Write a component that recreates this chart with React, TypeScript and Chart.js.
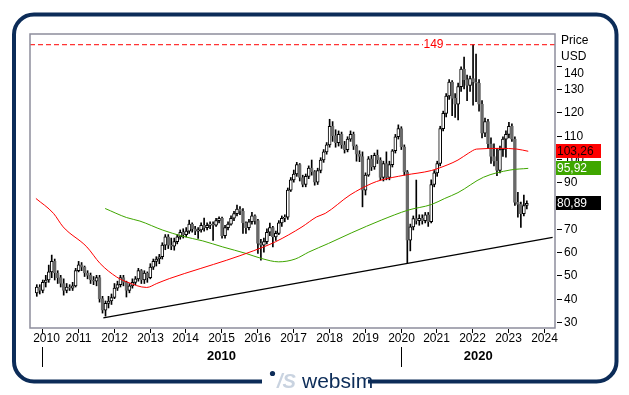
import React, { useEffect, useRef } from "react";
import Chart from "chart.js/auto";

// ---- data (monthly candles, Nov 2009 .. Jul 2023) ----
const START_YEAR = 2009;
const START_MONTH = 10; // November (0-based)

const opens = [
  42.5, 45, 43.5, 47, 48, 51.5, 56, 51, 49, 46.5, 43.5, 45, 44.5, 45.5, 52, 54.5, 53.5, 51, 50, 48,
  47.5, 49, 40, 35, 38, 39, 40.5, 44.5, 46, 49, 47, 43.5, 45.5, 47, 48.5, 52, 48, 51, 49, 53.5,
  56, 57, 58, 63, 66.5, 63, 62.5, 64.5, 66.5, 68.5, 67.5, 69, 72, 70, 69, 69.5, 71.5, 70.5, 71.5, 72,
  71.5, 73.5, 74.5, 67, 70.5, 72, 74.5, 76.5, 78.5, 77.5, 72.5, 70.5, 73, 75.5, 73.5, 63.7, 63, 64.5, 68.5, 70.5,
  66.5, 68, 72.5, 74.5, 75, 86.6, 91, 93.5, 97.5, 92, 89, 92.5, 96, 94.5, 90, 95, 99.5, 103, 106, 114,
  110, 107, 110.5, 106, 104, 108.5, 110.5, 105.5, 102, 101, 86.6, 93, 100, 96.5, 101.5, 99.5, 92, 98, 92, 97.5,
  103.5, 109.5, 113, 105.2, 94.4, 65.1, 70.8, 74.4, 73.5, 74.5, 73.5, 76, 73, 89, 94, 98, 113, 119.5, 127, 133,
  126, 123.5, 131, 138.5, 134, 131.5, 134.5, 133, 132.5, 123.5, 111, 116, 106.5, 101, 99, 95, 104, 108.5, 110.5, 114,
  108.5, 81.3, 80.5, 76.5, 80,
];
const highs = [
  46, 46, 48, 50, 54.4, 58.7, 57, 52, 50, 48.5, 46.5, 46, 47, 53, 56, 55.5, 54, 52, 51, 49.5,
  50, 50, 41, 39, 41, 42, 46.5, 47.5, 50, 50, 47.5, 46.5, 48.5, 49.5, 53, 52.5, 52, 51.5, 55, 57,
  58, 59, 64, 67.5, 67.5, 66, 66, 67.5, 69.5, 70, 70.5, 73.7, 72.5, 71, 70.5, 72.5, 74.6, 72.5, 73, 73,
  74.5, 75.1, 75, 71.5, 73, 75.5, 77.5, 80.2, 79.5, 78.7, 73, 74, 77, 76, 74, 65.5, 66, 70, 72.4, 71,
  69, 73.5, 75.5, 76, 87.5, 92, 95.2, 98.5, 98, 93, 93.5, 97, 99.5, 95, 96, 100.5, 104, 107, 117, 116,
  112.5, 112, 111.5, 107.5, 109.5, 112, 111.5, 106, 103.5, 103, 94, 101, 101.5, 102.5, 103.8, 100.5, 99, 103, 99, 104,
  110.5, 114.6, 113.8, 106, 95, 72, 75.5, 90.9, 76, 76, 77, 77, 91, 95, 99, 114, 120.5, 128, 134, 133.6,
  128, 132.5, 139.5, 143.7, 136, 135.5, 149, 145, 134, 125, 117.5, 117, 109, 106.5, 104.5, 105.5, 109.5, 112, 115.7, 115,
  109.5, 85.6, 81.5, 84.5, 82,
];
const lows = [
  41, 42, 42.5, 45, 47, 49, 48, 46.5, 45, 41.5, 42.5, 43.5, 43.5, 45, 51.5, 52, 49.5, 48.5, 46.5, 46,
  45.5, 38.5, 33.8, 32.5, 36, 37.5, 40, 43.5, 45, 45.5, 40.7, 42.5, 44.5, 46, 47.5, 46.5, 46.5, 47, 48.5, 52.5,
  54, 55, 57, 61, 61.5, 61, 60.8, 63.5, 65.5, 66, 66.5, 68, 68.5, 67.5, 65.8, 68.5, 69, 69.5, 70, 65,
  71, 72.5, 66, 66, 69.5, 71.5, 73.5, 75.5, 76, 68, 68, 69.5, 72, 72, 59.4, 56.5, 60, 63.5, 67, 62.2,
  65, 67.5, 71, 73, 74, 86, 90, 92.5, 90.5, 88, 88, 91.5, 93, 88.7, 89, 94, 98.5, 102, 105, 107.5,
  105, 105.5, 104.5, 102.5, 103, 107.5, 104, 99, 98.8, 79.4, 84.5, 92.5, 95, 95.5, 98, 91, 90.5, 91, 91, 96.5,
  102.5, 108.5, 104, 93, 55.4, 60.5, 69.5, 72, 71.5, 72, 72.5, 71, 72.5, 88, 92.5, 97, 112, 118, 125.5, 118.5,
  117.8, 116.7, 129, 130, 125, 129, 123, 124.5, 120.5, 109, 109.5, 104.5, 98, 97, 92.8, 94, 101, 100.7, 109, 107.5,
  80, 75, 70.6, 75.5, 78.5,
];
const closes = [
  45, 43.5, 47, 48, 51.5, 56, 51, 49, 46.5, 43.5, 45, 44.5, 45.5, 52, 54.5, 53.5, 51, 50, 48, 47.5,
  49, 40, 35, 38, 39, 40.5, 44.5, 46, 49, 47, 43.5, 45.5, 47, 48.5, 52, 48, 51, 49, 53.5, 56,
  57, 58, 63, 66.5, 63, 62.5, 64.5, 66.5, 68.5, 67.5, 69, 72, 70, 69, 69.5, 71.5, 70.5, 71.5, 72, 71.5,
  73.5, 74.5, 67, 70.5, 72, 74.5, 76.5, 78.5, 77.5, 72.5, 70.5, 73, 75.5, 73.5, 63.7, 63, 64.5, 68.5, 70.5, 66.5,
  68, 72.5, 74.5, 75, 86.6, 91, 93.5, 97.5, 92, 89, 92.5, 96, 94.5, 90, 95, 99.5, 103, 106, 114, 110,
  107, 110.5, 106, 104, 108.5, 110.5, 105.5, 102, 101, 86.6, 93, 100, 96.5, 101.5, 99.5, 92, 98, 92, 97.5, 103.5,
  109.5, 113, 105.2, 94.4, 65.1, 70.8, 74.4, 73.5, 74.5, 73.5, 76, 73, 89, 94, 98, 113, 119.5, 127, 133, 126,
  123.5, 131, 138.5, 134, 131.5, 134.5, 133, 132.5, 123.5, 111, 116, 106.5, 101, 99, 95, 104, 108.5, 110.5, 114, 108.5,
  81.3, 80.5, 76.5, 80, 80.89,
];

// moving averages (date as decimal year)
const redDates = [2009.83, 2010.32, 2010.59, 2011.25, 2011.62, 2012.08, 2012.36, 2012.92, 2013.2, 2013.55, 2014.41, 2015.15, 2015.89, 2016.51, 2017.25, 2017.66, 2017.9, 2018.59, 2019.2, 2019.46, 2020.11, 2020.86, 2021.32, 2021.6, 2021.9, 2022.12, 2022.77, 2023.24, 2023.56];
const redValues = [83, 76.6, 70.8, 62.2, 55.1, 49.3, 47.2, 44.8, 46.5, 48.6, 52.9, 56.5, 60.5, 64.4, 70.8, 75.1, 76.6, 84.5, 89.5, 90.9, 93, 95, 97.5, 99.5, 102.5, 104.2, 104.5, 104.2, 103.26];
const greenDates = [2011.76, 2012.36, 2012.73, 2013.37, 2013.92, 2014.48, 2015.04, 2015.69, 2016.13, 2016.6, 2017.06, 2017.44, 2017.99, 2018.64, 2019.46, 2020.21, 2020.86, 2021.23, 2021.6, 2022.31, 2023.05, 2023.56];
const greenValues = [78.7, 74.8, 73.3, 69.4, 66.8, 64.8, 62.2, 59.4, 57.2, 55.8, 57, 60, 63.7, 68.3, 73.7, 78, 80.4, 83, 85.5, 92.1, 95.2, 95.92];
const trendDates = [2011.71, 2024.24];
const trendValues = [31.7, 66.3];
const peakLevel = 149;

const yTicks = [30, 40, 50, 60, 70, 80, 90, 100, 110, 120, 130, 140];
const yearTicks = [2010, 2011, 2012, 2013, 2014, 2015, 2016, 2017, 2018, 2019, 2020, 2021, 2022, 2023, 2024];
const decades = [2010, 2020];

const X_MIN = 2009.665;
const X_MAX = 2024.306;
const Y_MIN = 27.4;
const Y_MAX = 153.6;

const GRAY = "#6b6b6b";
const RED = "#ff0000";
const GREEN = "#3fa600";
const NAVY = "#0c2c58";
const FONT = '"Liberation Sans", Arial, sans-serif';

function monthX(i: number) {
  return START_YEAR + (START_MONTH + i + 0.25) / 12;
}

export default function App() {
  const ref = useRef<HTMLCanvasElement>(null);

  useEffect(() => {
    const canvas = ref.current!;
    const isUp = (i: number) => closes[i] >= opens[i];
    const wicks = highs.map((h, i) => ({ x: monthX(i), y: [lows[i], h] }));
    const bodies = opens.map((o, i) => ({ x: monthX(i), y: [o, closes[i]] }));

    const overlay = {
      id: "overlay",
      beforeDraw(chart: any) {
        const ctx = chart.ctx;
        ctx.save();
        ctx.fillStyle = "#fff";
        ctx.fillRect(0, 0, 629, 395);
        // outer rounded frame
        ctx.strokeStyle = NAVY;
        ctx.lineWidth = 4;
        ctx.beginPath();
        ctx.roundRect(14, 14.5, 602.5, 367, 20);
        ctx.stroke();
        // logo gap
        ctx.fillStyle = "#fff";
        ctx.fillRect(262, 374, 106, 16);
        ctx.fillStyle = NAVY;
        ctx.beginPath();
        ctx.arc(272.5, 373.5, 2.6, 0, Math.PI * 2);
        ctx.fill();
        ctx.fillStyle = "#c9d3e0";
        ctx.font = `italic bold 20px ${FONT}`;
        ctx.textBaseline = "middle";
        ctx.textAlign = "left";
        ctx.fillText("/S", 277, 382);
        ctx.fillStyle = NAVY;
        ctx.font = `21px ${FONT}`;
        ctx.fillText("websim", 302, 382);
        ctx.restore();
      },
      afterDraw(chart: any) {
        const ctx = chart.ctx;
        const { left, right, top, bottom } = chart.chartArea;
        const xs = chart.scales.x;
        const ys = chart.scales.y;
        ctx.save();
        // plot frame
        ctx.strokeStyle = "#8d8d9c";
        ctx.lineWidth = 1.5;
        ctx.strokeRect(left, top, right - left, bottom - top);

        // y ticks
        ctx.strokeStyle = "#000";
        ctx.lineWidth = 1;
        ctx.fillStyle = "#000";
        ctx.font = `12px ${FONT}`;
        ctx.textAlign = "left";
        ctx.textBaseline = "middle";
        yTicks.forEach((v) => {
          const y = Math.round(ys.getPixelForValue(v)) + 0.5;
          ctx.beginPath();
          ctx.moveTo(right + 2, y);
          ctx.lineTo(right + 7, y);
          ctx.stroke();
          ctx.fillText(String(v), right + 9, y + (v === 140 ? 7 : 0));
        });
        ctx.fillText("Price", right + 6, 41);
        ctx.fillText("USD", right + 6, 57);

        // x ticks
        ctx.textAlign = "center";
        yearTicks.forEach((yr) => {
          const x = Math.round(xs.getPixelForValue(yr)) + 0.5;
          ctx.beginPath();
          ctx.moveTo(x, bottom + 1);
          ctx.lineTo(x, bottom + 5);
          ctx.stroke();
          ctx.fillText(String(yr), x + (yr === 2010 ? 4 : 0), bottom + 11);
        });
        // decade markers
        ctx.font = `bold 13px ${FONT}`;
        decades.forEach((d, i) => {
          const x = Math.round(xs.getPixelForValue(d)) + 0.5;
          ctx.beginPath();
          ctx.moveTo(x, bottom + 19);
          ctx.lineTo(x, bottom + 39);
          ctx.stroke();
          const xEnd = i + 1 < decades.length ? xs.getPixelForValue(decades[i + 1]) : right;
          ctx.fillText(String(d), (x + xEnd) / 2, bottom + 28);
        });

        // peak label
        const py = ys.getPixelForValue(peakLevel);
        ctx.font = `12px ${FONT}`;
        ctx.fillStyle = "#fff";
        ctx.fillRect(423, py - 6, 21, 12);
        ctx.fillStyle = RED;
        ctx.fillText(String(peakLevel), 433.5, py);

        // value boxes
        const boxes = [
          { v: redValues[redValues.length - 1], bg: RED, fg: "#1a0000" },
          { v: greenValues[greenValues.length - 1], bg: GREEN, fg: "#fff" },
          { v: closes[closes.length - 1], bg: "#000", fg: "#fff" },
        ];
        ctx.textAlign = "left";
        boxes.forEach((b) => {
          const y = ys.getPixelForValue(b.v);
          ctx.fillStyle = b.bg;
          ctx.fillRect(right + 1, Math.round(y - 7), 45, 14);
          ctx.fillStyle = b.fg;
          ctx.fillText(b.v.toFixed(2).replace(".", ","), right + 2, y + 0.5);
        });
        ctx.restore();
      },
    };

    const chart = new Chart(canvas, {
      type: "bar",
      data: {
        datasets: [
          {
            type: "line",
            data: [
              { x: X_MIN, y: peakLevel },
              { x: X_MAX, y: peakLevel },
            ],
            borderColor: RED,
            borderWidth: 1,
            borderDash: [5, 3],
            pointRadius: 0,
            order: 0,
          } as any,
          {
            type: "line",
            data: redDates.map((d, i) => ({ x: d, y: redValues[i] })),
            borderColor: RED,
            borderWidth: 1,
            pointRadius: 0,
            cubicInterpolationMode: "monotone",
            order: 0,
          },
          {
            type: "line",
            data: greenDates.map((d, i) => ({ x: d, y: greenValues[i] })),
            borderColor: GREEN,
            borderWidth: 1,
            pointRadius: 0,
            cubicInterpolationMode: "monotone",
            order: 0,
          },
          {
            type: "line",
            data: trendDates.map((d, i) => ({ x: d, y: trendValues[i] })),
            borderColor: "#000",
            borderWidth: 1.3,
            pointRadius: 0,
            order: 0,
          },
          {
            type: "bar",
            data: bodies as any,
            grouped: false,
            barThickness: 3,
            borderWidth: 1,
            borderSkipped: false,
            backgroundColor: (c: any) => (isUp(c.dataIndex) ? "#fff" : GRAY),
            borderColor: (c: any) => (isUp(c.dataIndex) ? "#000" : GRAY),
            order: 2,
          },
          {
            type: "bar",
            data: wicks as any,
            grouped: false,
            barThickness: 1,
            borderWidth: 0,
            backgroundColor: "#000",
            order: 3,
          },
        ] as any,
      },
      options: {
        responsive: false,
        animation: false,
        devicePixelRatio: 1,
        layout: { padding: { left: 30, top: 34, right: 74, bottom: 67 } },
        plugins: { legend: { display: false }, tooltip: { enabled: false } },
        scales: {
          x: { type: "linear", display: false, min: X_MIN, max: X_MAX, offset: false },
          y: { type: "linear", display: false, min: Y_MIN, max: Y_MAX },
        },
      },
      plugins: [overlay],
    });
    return () => chart.destroy();
  }, []);

  return (
    <div style={{ position: "absolute", left: 0, top: 0, width: 629, height: 395, background: "#fff" }}>
      <canvas ref={ref} width={629} height={395} style={{ display: "block", width: 629, height: 395 }} />
    </div>
  );
}
